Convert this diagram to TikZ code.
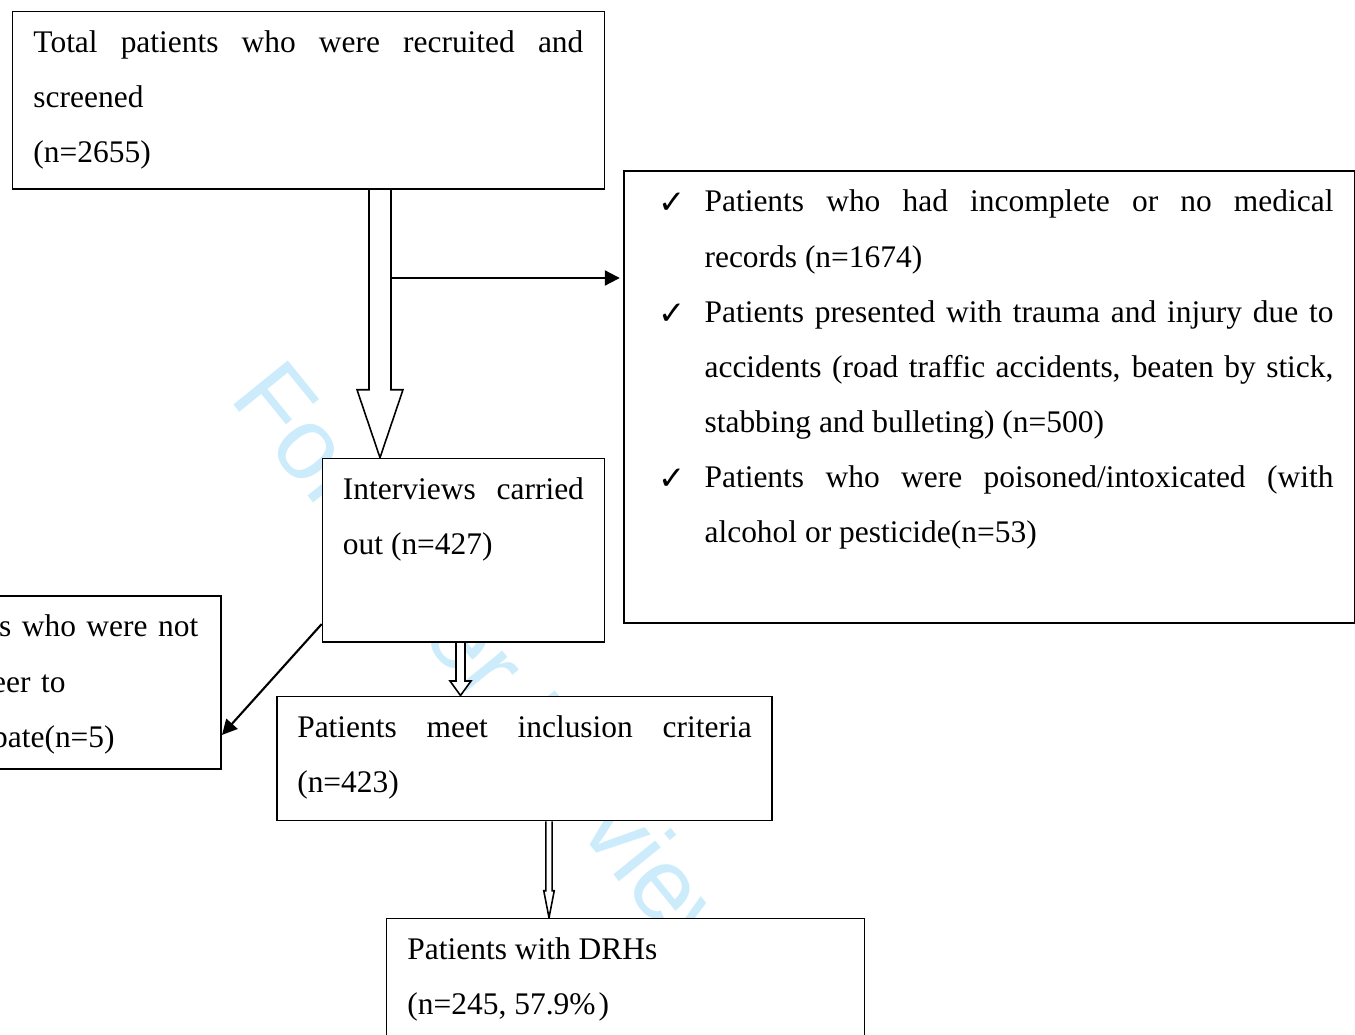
\documentclass[tikz,border=0pt]{standalone}
\usepackage{fontspec}
\setmainfont{Liberation Serif}
\newfontfamily\wmfont{Liberation Sans}
\newfontfamily\tickfont{DejaVu Sans}
\usepackage{tikz}
\usetikzlibrary{arrows.meta, calc, backgrounds}
\definecolor{wmblue}{RGB}{205,236,251}
\newcommand{\tick}{\makebox[1.19cm][l]{\hspace{0.27cm}\raisebox{-0.04cm}{\tickfont\fontsize{18.5pt}{31.4pt}\selectfont ✓}}}
\hyphenpenalty=10000
\exhyphenpenalty=10000
\tolerance=9999
\hbadness=10000

\begin{document}
\begin{tikzpicture}[
    x=0.02cm, y=-0.02cm,
    box/.style={draw, fill=white, line width=0.9pt, anchor=north west,
        inner xsep=0.42cm, inner ysep=0.05cm, align=justify,
        font=\fontsize{17.9pt}{31.4pt}\selectfont,
        execute at begin node=\strut},
    hollow/.style={draw, fill=white, line width=0.9pt},
    link/.style={->, line width=1.2pt},
    wmtext/.style={anchor=base west, rotate=-51, inner sep=0pt, text=wmblue,
        font=\wmfont\fontsize{58pt}{58pt}\selectfont},
    >={Triangle[length=0.3cm, width=0.3cm]}
]
    \useasboundingbox (0,0) rectangle (1355,1034);

    % 方框 (6个)
    \node[box, text width=11cm] (total) at (11.7,10.7)
        {Total patients who were recruited and screened\\(n=2655)\rule[-0.47cm]{0pt}{0.47cm}};
    \node[box, text width=13.77cm] (excl) at (623.3,170) {%
        \hangindent=1.19cm\hangafter=1\tick Patients who had incomplete or no medical\linebreak records (n=1674)\par
        \hangindent=1.19cm\hangafter=1\tick Patients presented with trauma and injury due to accidents (road traffic accidents, beaten by stick, stabbing and bulleting) (n=500)\par
        \hangindent=1.19cm\hangafter=1\tick Patients who were poisoned/intoxicated (with alcohol or pesticide(n=53)\rule[-1.55cm]{0pt}{1.55cm}\par};
    \node[box, text width=4.82cm, inner xsep=0.41cm] (inter) at (321.7,457.7)
        {Interviews carried out (n=427)\rule[-1.69cm]{0pt}{1.69cm}};
    \node[box, text width=5.77cm, align=left] (refuse) at (-110,595)
        {Patients who were not\\volunteer to\\participate(n=5)\rule[-0.386cm]{0pt}{0.386cm}};
    \node[box, text width=9.09cm, inner xsep=0.41cm] (incl) at (276,695.5)
        {Patients meet inclusion criteria (n=423)\rule[-0.51cm]{0pt}{0.51cm}};
    \node[box, text width=8.72cm] (drh) at (385.7,917.7)
        {Patients with DRHs\\(n=245, 57.9\%\hspace{0.1em})\rule[-0.8cm]{0pt}{0.8cm}};

    \begin{scope}[on background layer]
        % 水印
        \node[wmtext] (wm) at (228,398) {For Peer Review};

        % 1. 空心大箭头 (total -> inter)
        \coordinate (k1) at (380,0);
        \draw[hollow] let \p1=(total.south -| k1), \p2=(inter.north -| k1) in
            (\x1-0.22cm,\y1) -- (\x1-0.22cm,\y2+1.36cm) -- (\x1-0.46cm,\y2+1.36cm) -- (\p2)
            -- (\x1+0.46cm,\y2+1.36cm) -- (\x1+0.22cm,\y2+1.36cm) -- (\x1+0.22cm,\y1);

        % 2. 排除分支 (指向右侧方框)
        \coordinate (k2) at (391,278);
        \draw[link, shorten >=0.07cm] (k2) -- (k2 -| excl.west);

        % 3. 斜箭头 (inter -> refuse)
        \draw[link] ([yshift=0.37cm]inter.south west) -- ([yshift=-1.05cm]refuse.east);

        % 4. 空心小箭头 (inter -> incl)
        \coordinate (k4) at (460.5,0);
        \draw[hollow] let \p1=(inter.south -| k4), \p2=(incl.north -| k4) in
            (\x1-0.09cm,\y1) -- (\x1-0.09cm,\y2+0.29cm) -- (\x1-0.21cm,\y2+0.29cm) -- (\p2)
            -- (\x1+0.21cm,\y2+0.29cm) -- (\x1+0.09cm,\y2+0.29cm) -- (\x1+0.09cm,\y1);

        % 5. 空心细箭头 (incl -> drh)
        \coordinate (k5) at (549,0);
        \draw[hollow] let \p1=(incl.south -| k5), \p2=(drh.north -| k5) in
            (\x1-0.064cm,\y1) -- (\x1-0.064cm,\y2+0.54cm) -- (\x1-0.105cm,\y2+0.54cm) -- (\p2)
            -- (\x1+0.105cm,\y2+0.54cm) -- (\x1+0.064cm,\y2+0.54cm) -- (\x1+0.064cm,\y1);
    \end{scope}
\end{tikzpicture}
\end{document}
